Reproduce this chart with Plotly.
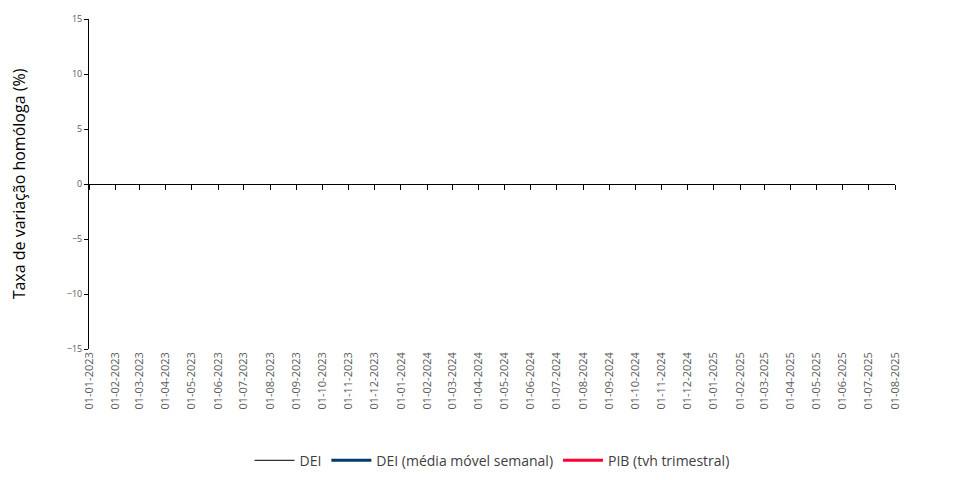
import plotly.graph_objects as go
import pandas as pd

dates = pd.date_range("2023-01-01", "2025-08-01", freq="MS").strftime("%Y-%m-%d").tolist()
dei = [None] * len(dates)
dei_mm = [None] * len(dates)
pib = [None] * len(dates)
y_ticks = [-15, -10, -5, 0, 5, 10, 15]

font = "Liberation Sans Narrow, Open Sans, sans-serif"
fig = go.Figure()
fig.add_trace(go.Scatter(x=dates, y=dei, name="DEI", mode="lines", line=dict(color="black", width=1)))
fig.add_trace(go.Scatter(x=dates, y=dei_mm, name="DEI (média móvel semanal)", mode="lines", line=dict(color="#003A70", width=3)))
fig.add_trace(go.Scatter(x=dates, y=pib, name="PIB (tvh trimestral)", mode="lines", line=dict(color="#FF0033", width=3)))
fig.add_trace(go.Scatter(x=[dates[0], dates[-1]], y=[0, 0], xaxis="x2", mode="lines",
                         line=dict(color="rgba(0,0,0,0)"), showlegend=False, hoverinfo="skip"))

fig.update_layout(
    width=960, height=480, margin=dict(l=81, r=73, t=11, b=128),
    plot_bgcolor="white", paper_bgcolor="white",
    font=dict(family=font, color="#595959", size=9),
    showlegend=True,
    legend=dict(orientation="h", x=0.5, xanchor="center", y=-0.29, yanchor="top",
                font=dict(size=14, color="#404040"), itemwidth=40, tracegroupgap=0),
    xaxis=dict(type="date", range=[dates[0], dates[-1]], tickvals=dates, automargin=False,
               ticktext=[pd.Timestamp(d).strftime("%d-%m-%Y") for d in dates],
               tickangle=-90, showgrid=False, showline=False, ticks="", zeroline=False,
               tickfont=dict(size=11, color="#595959")),
    xaxis2=dict(type="date", range=[dates[0], dates[-1]], tickvals=dates, overlaying="x",
                anchor="free", position=0.5, showline=True, linecolor="black", linewidth=1,
                ticks="outside", ticklen=5, tickcolor="black", showticklabels=False, showgrid=False,
                automargin=False),
    yaxis=dict(range=[-15, 15], tickvals=y_ticks, showgrid=False, zeroline=False, automargin=False,
               showline=True, linecolor="black", ticks="outside", ticklen=4, tickcolor="black",
               tickfont=dict(size=9, color="#595959"),
               title=dict(text="Taxa de variação homóloga (%)", font=dict(size=16, color="black"), standoff=40)),
)
fig.write_html("out.html")
